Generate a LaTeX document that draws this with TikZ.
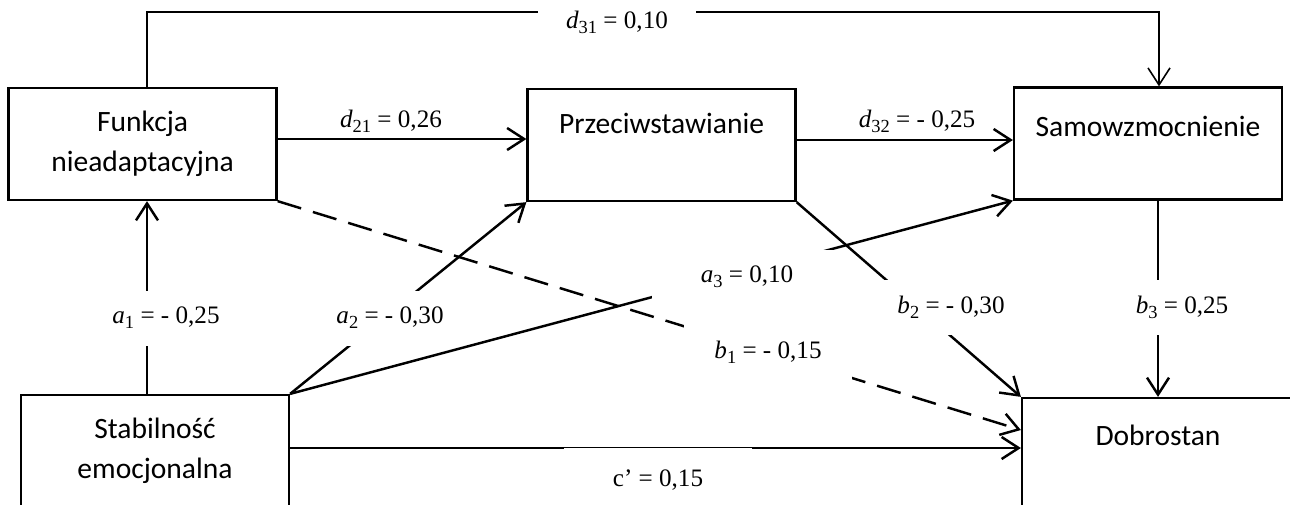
\documentclass[tikz,border=0pt]{standalone}
\usepackage{fontspec}
\setmainfont{Liberation Serif}
\newfontfamily\boxfont{Carlito}
\usetikzlibrary{arrows.meta}
\newcommand{\subidx}[1]{\raisebox{-0.45ex}{\fontsize{10.5}{10.5}\selectfont #1}}

\begin{document}
\begin{tikzpicture}[
  x=0.02cm, y=-0.02cm,
  box/.style={draw, line width=1.3pt, minimum width=5.36cm, minimum height=2.24cm,
    inner sep=0pt, align=center, font=\boxfont\fontsize{16.8}{22.7}\selectfont},
  arr/.style={line width=1.4pt, -{Straight Barb[length=3.4mm, width=4.4mm]}},
  lbl/.style={font=\fontsize{14.3}{16}\selectfont, inner sep=0pt},
  cover/.style={lbl, fill=white, minimum height=1.1cm, minimum width=#1}
]
  \useasboundingbox (0,0) rectangle (1290,504);
  \clip (0,0) rectangle (1290,504);

  % Nodes
  \node[box] (fun) at (142.5,144) {Funkcja\\nieadaptacyjna};
  \node[box, text height=11pt, text depth=24.6pt] (prz) at (661.5,145) {Przeciwstawianie};
  \node[box, text height=11pt, text depth=19.5pt] (sam) at (1148,143.5) {Samowzmocnienie};
  \node[box] (sta) at (155,451) {Stabilność\\emocjonalna};
  \node[box, minimum width=5.44cm, text height=11pt, text depth=21.2pt] (dob) at (1158,454) {Dobrostan};

  % Edges
  \draw[arr, line width=0.9pt] ([xshift=0.9mm]fun.north) -- ++(0,-75) -| ([xshift=2.2mm]sam.north);
  \draw[arr] ([yshift=1mm]fun.east) -- ([yshift=1mm]fun.east -| prz.west);
  \draw[arr] ([yshift=1mm]prz.east) -- ([yshift=1mm]prz.east -| sam.west);

  \draw[arr] ([xshift=0.9mm]fun.south |- sta.north) -- ([xshift=0.9mm]fun.south);
  \draw[arr] (sta.north east) -- (prz.south west);
  \draw[arr] (sta.north east) -- (sam.south west);

  \draw[arr, dash pattern=on 14pt off 7pt] (fun.south east) -- ([yshift=4.8mm]dob.west);
  \draw[arr] (prz.south east) -- (dob.north west);
  \draw[arr] (sam.south -| dob.north) -- (dob.north);
  \draw[arr] ([yshift=0.6mm]sta.east) -- ([yshift=0.6mm]sta.east -| dob.west);

  % Wspolczynniki
  \node[cover=3.18cm] (l31) at (617,22) {\textit{d}\subidx{31} = 0,10};
  \node[lbl] (l21) at (391,121) {\textit{d}\subidx{21} = 0,26};
  \node[lbl] (l32) at (917,121) {\textit{d}\subidx{32} = - 0,25};
  \node[cover=2.6cm] (la1) at (166,318) {\textit{a}\subidx{1} = - 0,25};
  \node[cover=2.6cm] (la2) at (390,318) {\textit{a}\subidx{2} = - 0,30};
  \node[cover=3.8cm] (la3) at (747,277) {\textit{a}\subidx{3} = 0,10};
  \node[cover=3.36cm] (lb1) at (768,352) {\textit{b}\subidx{1} = - 0,15};
  \node[cover=2.68cm] (lb2) at (951,307) {\textit{b}\subidx{2} = - 0,30};
  \node[cover=2.2cm] (lb3) at (1182,307) {\textit{b}\subidx{3} = 0,25};
  \node[cover=3.76cm, minimum height=1.28cm] (lc) at (658,480) {c’ = 0,15};
\end{tikzpicture}
\end{document}
